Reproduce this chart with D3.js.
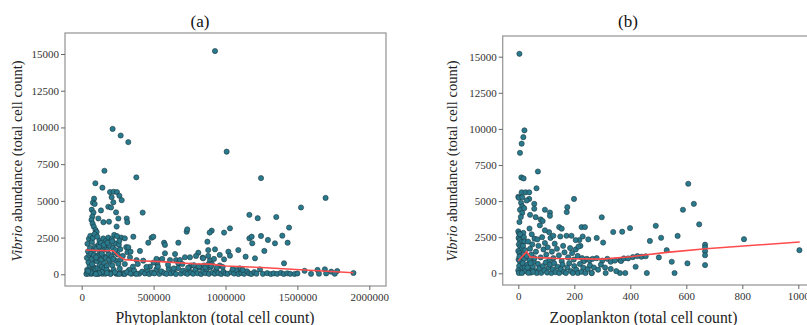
<!DOCTYPE html>
<html>
<head>
<meta charset="utf-8">
<script src="https://cdn.jsdelivr.net/npm/d3@7"></script>
<style>
  body { margin: 0; background: #fff; }
  text { font-family: "Liberation Serif", "Times New Roman", serif; }
</style>
</head>
<body>
<svg id="chart" width="807" height="325"></svg>
<script>
// ---- data ----
const vibrioTicks = [0, 2500, 5000, 7500, 10000, 12500, 15000];
const phytoTicks = [0, 500000, 1000000, 1500000, 2000000];
const zooTicks = [0, 200, 400, 600, 800, 1000];

// (a) phytoplankton count vs Vibrio abundance
const phyto = [
  [927000,15200],[215000,9900],[271000,9450],[324000,9000],[1008000,8350],[158000,7050],[380000,6600],[1247000,6550],
  [95000,6200],[144000,5900],[197000,5600],[222000,5620],[245000,5600],[262000,5350],[278000,5050],[208000,5250],
  [220000,4900],[1696000,5200],[1525000,4550],[424000,4200],[1166000,4050],[1224000,3820],[1353000,3900],[1442000,3180],
  [185000,4600],[204000,4550],[239000,4220],[190000,3580],[255000,3800],[313000,3800],[317000,3550],[243000,3250],
  [134000,4350],[116000,3800],[151000,3550],
  [86000,5150],[78000,4880],[90000,4790],[70000,4400],[82000,4200],[74000,3930],[68000,3700],[76000,3450],[84000,3250],[96000,3020],[104000,2880],
  [35000,60],[42000,130],[38000,310],[55000,580],[47000,820],[36000,1120],[52000,1330],[44000,1560],[58000,1800],[40000,2080],[50000,2420],[60000,2620],[33000,20],[48000,40],[57000,260],
  [68000,30],[75000,210],[88000,460],[72000,690],[93000,960],[80000,1180],[66000,1420],[85000,1660],[92000,1890],[71000,2200],[78000,2480],[89000,2740],[82000,80],[95000,350],[70000,1050],[86000,1300],
  [102000,50],[118000,160],[110000,410],[126000,640],[105000,890],[120000,1060],[113000,1290],[128000,1520],[103000,1760],[117000,2010],[124000,2290],[108000,2560],[115000,20],[129000,330],[100000,1150],[122000,1880],
  [133000,70],[148000,240],[140000,520],[155000,790],[137000,1010],[152000,1240],[143000,1610],[158000,1860],[135000,2150],[150000,2440],[145000,40],[157000,420],[139000,1400],[153000,2000],
  [165000,40],[182000,190],[175000,560],[195000,860],[168000,1110],[188000,1380],[178000,1650],[193000,1950],[170000,2310],[185000,2500],[198000,60],[172000,300],[190000,1000],[180000,2150],
  [205000,80],[222000,310],[213000,610],[236000,940],[208000,1210],[228000,1490],[217000,1800],[232000,2100],[210000,2400],[226000,2680],[240000,40],[220000,1050],[235000,1650],[212000,2250],
  [248000,50],[265000,390],[255000,720],[272000,1010],[250000,1350],[268000,1710],[258000,2020],[275000,2500],[262000,2280],[278000,60],[246000,2600],
  [290000,30],[300000,2450],[310000,1850],[318000,1500],[336000,1160],[324000,1840],[340000,1540],[359000,2560],[346000,40],[330000,300],[300000,700],[286000,1250],[356000,520],[372000,60],[296000,90],[382000,970],
  [405000,1590],[463000,2150],[486000,2490],[498000,2560],[573000,2150],[579000,2000],[579000,1430],[649000,1380],[672000,2150],[730000,2900],[734000,3060],[718000,1160],
  [753000,1160],[811000,1470],[795000,1250],[874000,2220],[880000,1650],[904000,2970],[890000,2840],[927000,1700],[990000,2840],[1031000,3130],[990000,1020],[1020000,1540],
  [880000,1250],[892000,930],[841000,1130],[614000,970],[656000,970],[672000,750],[533000,970],[526000,700],[475000,520],[428000,930],[1166000,2450],[1182000,2560],
  [1247000,2610],[1186000,2110],[1295000,2340],[1344000,2110],[1395000,2630],[1432000,2150],[1270000,1590],[1089000,1650],[1140000,1200],[1205000,1090],[1031000,1270],[1407000,750],
  [1691000,340],[1777000,225],[960000,1320],[845000,1090],[683000,975],[560000,1050],[520000,1050],[920000,1050],[760000,600],[850000,600],[905000,700],[960000,600],[1100000,400],
  [400000,40],[420000,180],[440000,60],[455000,300],[470000,20],[490000,130],[505000,60],[520000,350],[540000,30],[555000,200],[575000,80],[590000,30],[605000,380],[620000,60],
  [640000,150],[655000,20],[670000,420],[690000,50],[705000,250],[720000,90],[735000,30],[745000,380],[760000,120],[775000,40],[790000,300],[805000,70],[820000,450],[830000,20],
  [845000,200],[860000,80],[870000,350],[885000,30],[895000,480],[910000,120],[925000,40],[935000,300],[950000,80],[970000,20],[985000,180],[1000000,60],[1015000,30],[1040000,140],
  [1060000,50],[1075000,280],[1090000,20],[1110000,90],[1130000,30],[1150000,200],[1165000,60],[1180000,20],[1200000,150],[1215000,40],[1240000,330],[1260000,30],[1290000,80],
  [1315000,20],[1335000,60],[1360000,30],[1385000,100],[1405000,20],[1430000,70],[1450000,30],[1480000,20],[1500000,60],[1550000,240],[1595000,30],[1640000,300],[1650000,40],
  [1700000,60],[1735000,180],[1760000,40],[1890000,90],
  [300000,20],[315000,150],[340000,60],[365000,250],[380000,20],[260000,20],[230000,130],[200000,20],[175000,90],[140000,150],[120000,70],[98000,20],[62000,130],[45000,220],
  [390000,700],[450000,500],[500000,800],[530000,520],[600000,650],[640000,400],[700000,700],[740000,450],[780000,620],[815000,540],[860000,480],[880000,680],[900000,580],
  [940000,450],[980000,500],[1050000,350],[1120000,300]
];

// (b) zooplankton count vs Vibrio abundance
const zoo = [
  [4,15200],[22,9900],[18,9430],[12,8980],[6,8340],[11,6640],[19,6570],[70,7050],[65,5890],[0,5300],[2,5230],[12,5610],[26,5610],[39,5610],
  [14,5270],[39,5150],[30,5040],[10,4880],[14,4630],[6,4400],[14,4180],[9,3900],[4,3550],[21,4510],[57,4810],[57,4470],[42,4050],[62,3890],
  [80,3730],[87,3620],[95,4400],[113,4210],[113,3980],[175,4580],[173,4240],[199,5150],[77,3320],[146,3200],[155,3090],[226,3200],[238,3200],
  [298,3880],[371,2880],[399,3130],[491,3290],[470,2240],[510,2460],[569,2590],[588,4400],[607,6200],[627,4810],[646,3390],[806,2360],[1004,1600],
  [530,1600],[502,1100],[548,800],[604,690],[419,455],[459,20],[558,20],[363,20],[382,20],[262,20],[280,2450],[303,2130],[339,2860],
  [667,1980],[667,1790],[667,1530],[667,1250],[667,570],[363,920],[367,850],[377,1030],[392,1030],[409,1120],[425,1190],[440,1150],[455,1180],
  [0,2900],[3,2750],[8,2620],[1,2450],[5,2300],[10,2150],[2,2000],[7,1850],[12,1700],[0,1550],[4,1400],[9,1250],[15,1100],[1,950],[6,800],
  [11,650],[3,500],[14,350],[0,200],[8,80],[2,20],[18,2800],[20,2500],[22,2200],[17,1900],[24,1600],[19,1300],[21,1000],[16,700],[23,400],
  [25,150],[13,20],[6,2700],[4,1150],
  [35,2200],[42,1700],[50,2000],[58,2400],[63,1500],[68,2350],[72,1900],[80,1100],[85,2500],[90,1650],[95,2100],[100,1300],[105,1800],[110,900],
  [115,2450],[120,1500],[125,1050],[130,2050],[138,1700],[145,1250],[150,2550],[155,850],[160,1900],[165,1450],[172,2600],[178,1100],[185,1750],
  [192,1400],[198,950],[205,1650],[212,1200],[218,2300],[222,1900],[228,1050],[235,850],[245,1000],[255,900],[265,1000],[280,1050],[300,880],
  [318,1000],[330,800],[345,880],
  [32,600],[38,250],[45,50],[52,450],[55,800],[60,150],[66,20],[70,650],[75,350],[82,30],[88,500],[93,200],[98,750],[103,50],[108,400],[113,600],
  [118,20],[123,280],[128,700],[133,80],[140,450],[146,20],[152,300],[158,600],[163,100],[170,20],[175,400],[182,700],[188,150],[195,20],[200,500],
  [207,250],[213,20],[220,650],[226,100],[232,400],[240,20],[248,300],[256,550],[262,20],[270,400],[285,250],[295,600],[310,400],[312,20],[330,300],
  [350,150],[30,1200],[33,400],[40,900],[47,1300],[52,100],[58,1050],[36,30],[44,700],
  [40,3100],[48,2700],[110,2850],[95,2980],[125,2600],[190,2600],[205,2300],[230,2550],[250,2350],[215,1850]
];

// fitted (loess) lines
const phytoFit = [[30000,1650],[120000,1620],[220000,1600],[255000,1250],[300000,1000],[400000,920],[550000,860],[775000,720],[900000,690],[1000000,560],[1250000,460],[1550000,290],[1890000,110]];
const zooFit = [[0,870],[30,1500],[42,1150],[60,1100],[140,1030],[300,980],[400,1150],[530,1450],[670,1700],[1005,2170]];

const svg = d3.select("#chart");

function drawPanel(o) {
  const x = d3.scaleLinear().domain([0, o.xMax]).range([o.xr[0], o.xr[1]]);
  const y = d3.scaleLinear().domain([0, 15000]).range([o.yr[0], o.yr[1]]);
  const [fl, ft, fr, fb] = o.frame;

  svg.append("rect")
    .attr("x", fl).attr("y", ft)
    .attr("width", fr - fl).attr("height", fb - ft)
    .attr("fill", "none").attr("stroke", "#9a9a9a").attr("stroke-width", 1.3);

  const ax = svg.append("g")
    .attr("transform", "translate(0," + fb + ")")
    .call(d3.axisBottom(x).tickValues(o.xTicks).tickSize(4).tickPadding(3).tickFormat(d3.format("d")));
  const ay = svg.append("g")
    .attr("transform", "translate(" + fl + ",0)")
    .call(d3.axisLeft(y).tickValues(vibrioTicks).tickSize(4).tickPadding(2).tickFormat(d3.format("d")));
  [ax, ay].forEach(function (g) {
    g.select(".domain").remove();
    g.selectAll("line").attr("stroke", "#666");
    g.selectAll("text").attr("fill", "#333").style("font-size", "11px")
      .style("font-family", '"Liberation Serif", serif');
  });

  svg.append("g").selectAll("circle")
    .data(o.pts)
    .join("circle")
    .attr("cx", function (d) { return x(d[0]); })
    .attr("cy", function (d) { return y(d[1]); })
    .attr("r", 2.6)
    .attr("fill", "#2a7a8e")
    .attr("stroke", "#1c3940")
    .attr("stroke-width", 0.6);

  const line = d3.line()
    .x(function (d) { return x(d[0]); })
    .y(function (d) { return y(d[1]); });
  svg.append("path")
    .datum(o.fit)
    .attr("d", line)
    .attr("fill", "none")
    .attr("stroke", "#ff4b4b")
    .attr("stroke-width", 1.6);

  svg.append("text")
    .attr("x", o.titleX).attr("y", 27)
    .attr("text-anchor", "middle")
    .style("font-size", "17px").attr("fill", "#111")
    .text(o.title);

  svg.append("text")
    .attr("x", o.xLabelX).attr("y", 323)
    .attr("text-anchor", "middle")
    .style("font-size", "15.7px").attr("fill", "#222")
    .text(o.xLabel);

  const yl = svg.append("text")
    .attr("transform", "translate(" + o.yLabelX + ",161) rotate(-90)")
    .attr("text-anchor", "middle")
    .style("font-size", "14.5px").attr("fill", "#222");
  yl.append("tspan").style("font-style", "italic").text("Vibrio");
  yl.append("tspan").text(" abundance (total cell count)");
}

drawPanel({
  pts: phyto, fit: phytoFit, xMax: 2000000, xTicks: phytoTicks,
  xr: [81.7, 369.3], yr: [274.3, 54],
  frame: [65, 33, 386, 286],
  title: "(a)", titleX: 200,
  xLabel: "Phytoplankton (total cell count)", xLabelX: 215,
  yLabelX: 22
});

drawPanel({
  pts: zoo, fit: zooFit, xMax: 1000, xTicks: zooTicks,
  xr: [518.3, 798.3], yr: [273.3, 56.7],
  frame: [502.7, 36, 822, 285],
  title: "(b)", titleX: 628,
  xLabel: "Zooplankton (total cell count)", xLabelX: 643.5,
  yLabelX: 457
});
</script>
</body>
</html>
